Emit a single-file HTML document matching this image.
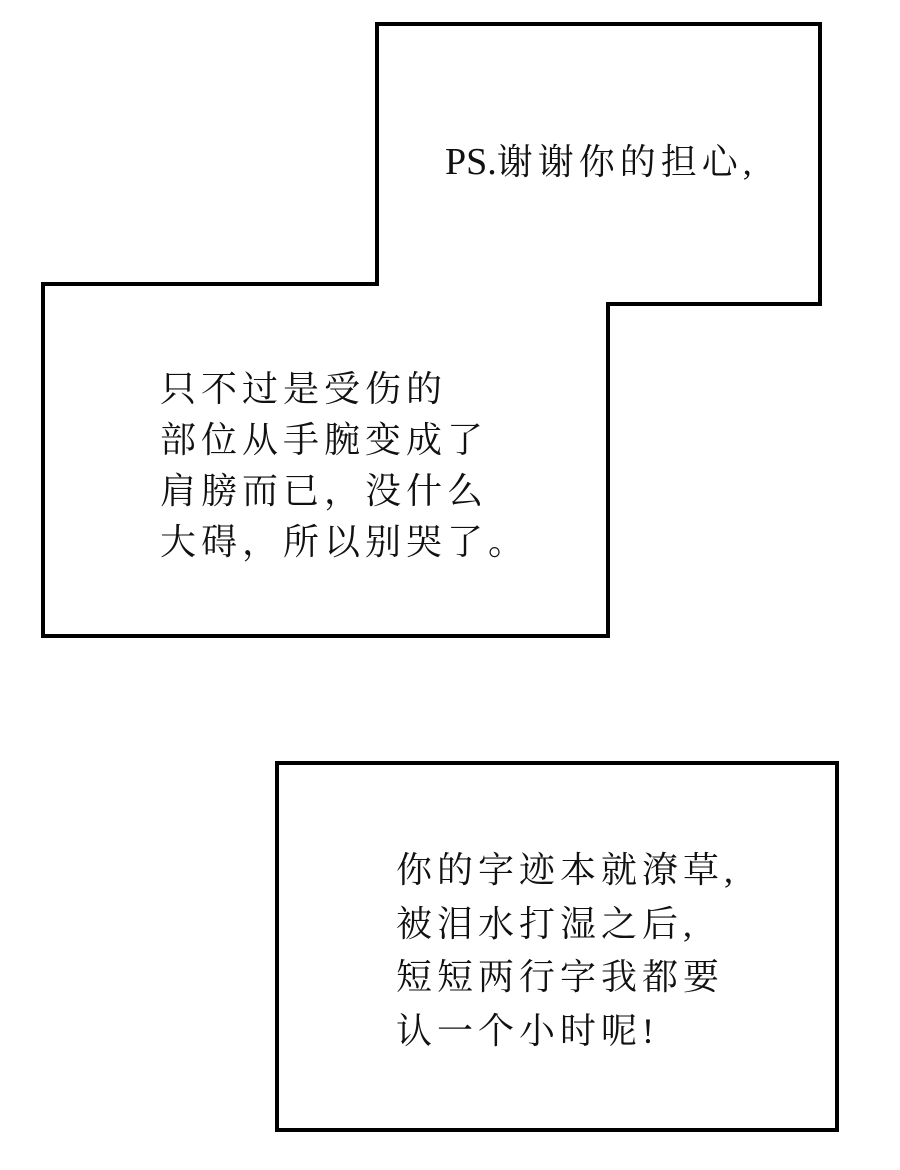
<!DOCTYPE html>
<html><head><meta charset="utf-8"><style>
html,body{margin:0;padding:0;background:#fff;width:900px;height:1170px;overflow:hidden;position:relative}
svg{position:absolute;left:0;top:0}
.t{position:absolute;font-family:"Liberation Serif","Noto Serif CJK SC",serif;font-size:36px;color:#111;line-height:53px;white-space:nowrap;letter-spacing:5px}
.l{letter-spacing:0;font-size:38px}
</style></head><body>
<svg width="900" height="1170">
<polygon points="377,24 820,24 820,304 608,304 608,636 43,636 43,284 377,284" fill="#fff" stroke="#000" stroke-width="4"/>
<rect x="277" y="763" width="560" height="367" fill="#fff" stroke="#000" stroke-width="4"/>
</svg>
<div class="t" style="left:445px;top:136px"><span class="l">PS.</span>谢谢你的担心,</div>
<div class="t" style="left:160px;top:364px;line-height:51px">只不过是受伤的<br>部位从手腕变成了<br>肩膀而已，没什么<br>大碍，所以别哭了。</div>
<div class="t" style="left:396px;top:844px;line-height:53.5px">你的字迹本就潦草,<br>被泪水打湿之后,<br>短短两行字我都要<br>认一个小时呢!</div>
</body></html>
